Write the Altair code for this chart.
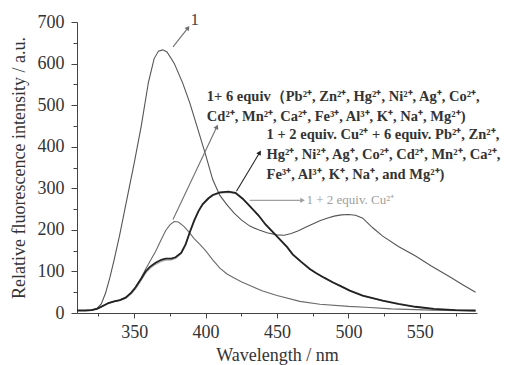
import altair as alt
import pandas as pd

# ---- spectra ----
wl_1 = [310, 315, 320, 324, 327, 330, 333, 336, 340, 345, 350, 355, 360, 364, 367, 370, 373, 378, 384, 389,
        394, 400, 405, 410, 415, 420, 425, 431, 437, 443, 450, 455, 460, 465, 470, 475, 480, 485, 490, 495,
        500, 505, 510, 517, 524, 535, 547, 558, 570, 580, 589]
int_1 = [6, 6, 7, 11, 22, 48, 85, 128, 190, 275, 360, 450, 555, 612, 630, 633, 628, 601, 553, 505,
         449, 381, 321, 283, 260, 240, 224, 209, 200, 193, 188, 187, 191, 198, 206, 214, 222, 228, 233, 236,
         237, 235, 228, 205, 185, 160, 137, 113, 89, 68, 50]

wl_cu = [310, 316, 320, 324, 328, 332, 336, 340, 344, 348, 351, 355, 358, 361, 365, 369, 372, 376, 379, 383,
         386, 389, 392, 395, 398, 402, 405, 410, 416, 421, 426, 431, 437, 442, 447, 452, 457, 461, 467, 473,
         477, 483, 489, 495, 501, 510, 524, 535, 547, 560, 575, 589]
int_cu6 = [6, 6, 7, 10, 17, 24, 28, 31, 37, 49, 62, 83, 100, 111, 121, 128, 131, 131, 134, 145,
           165, 195, 222, 245, 262, 276, 284, 290, 292, 289, 275, 257, 235, 213, 195, 177, 159, 141, 123, 106,
           97, 85, 74, 64, 54, 42, 30, 22, 15, 10, 7, 6]
int_cu = [6, 6, 7, 10, 16, 23, 27, 30, 35, 46, 58, 79, 96, 107, 117, 124, 127, 128, 131, 143,
          163, 193, 220, 243, 260, 274, 282, 288, 290, 287, 274, 256, 234, 212, 194, 176, 158, 140, 122, 105,
          96, 84, 73, 63, 53, 41, 29, 21, 14, 9, 7, 6]

wl_6 = [310, 316, 320, 324, 328, 332, 336, 340, 344, 348, 351, 355, 358, 362, 365, 369, 372, 375, 378, 381,
        385, 389, 392, 396, 400, 405, 410, 415, 420, 425, 431, 440, 450, 466, 480, 500, 512, 530, 558, 589]
int_6 = [6, 6, 7, 10, 17, 24, 28, 31, 37, 49, 62, 85, 105, 130, 148, 177, 198, 212, 220, 219,
         208, 192, 179, 165, 150, 128, 108, 94, 84, 75, 66, 53, 42, 28, 21, 16, 14, 10, 7, 5]

# ---- annotations (data units) ----
ann_text = ["1",
            "1+ 6 equiv（Pb²⁺, Zn²⁺, Hg²⁺, Ni²⁺, Ag⁺, Co²⁺,",
            "Cd²⁺, Mn²⁺, Ca²⁺, Fe³⁺, Al³⁺, K⁺, Na⁺, Mg²⁺)",
            "1 + 2 equiv. Cu²⁺ + 6 equiv. Pb²⁺, Zn²⁺,",
            "Hg²⁺, Ni²⁺, Ag⁺, Co²⁺, Cd²⁺, Mn²⁺, Ca²⁺,",
            "Fe³⁺, Al³⁺, K⁺, Na⁺, and Mg²⁺)",
            "1 + 2 equiv. Cu²⁺"]
ann_x = [389.5, 400.9, 400.9, 442.7, 442.7, 442.7, 470.6]
ann_y = [705, 520, 472, 429, 379, 333, 271]
ann_group = ["one", "bold", "bold", "bold", "bold", "bold", "gray"]

arr_x = [377.2, 377.2, 421.6, 430.9]
arr_y = [640, 225, 293, 271]
arr_x2 = [387.7, 407.9, 437.9, 467.9]
arr_y2 = [686, 448, 386, 271]
arr_angle = [38, 25, 31, 90]
arr_group = ["g1", "g1", "dark", "light"]

x_ticks = [325, 350, 375, 400, 425, 450, 475, 500, 525, 550, 575]
y_ticks = [0, 50, 100, 150, 200, 250, 300, 350, 400, 450, 500, 550, 600, 650, 700]

FONT = "Liberation Serif"

curves = pd.concat([
    pd.DataFrame({"x": wl_cu, "y": int_cu, "s": "cu"}),
    pd.DataFrame({"x": wl_6, "y": int_6, "s": "six"}),
    pd.DataFrame({"x": wl_1, "y": int_1, "s": "one"}),
    pd.DataFrame({"x": wl_cu, "y": int_cu6, "s": "cu6"}),
])
ann = pd.DataFrame({"x": ann_x, "y": ann_y, "t": ann_text, "g": ann_group})
arr = pd.DataFrame({"x": arr_x, "y": arr_y, "x2": arr_x2, "y2": arr_y2, "a": arr_angle, "g": arr_group})

xaxis = alt.Axis(values=x_ticks, title="Wavelength / nm",
                 labelExpr="datum.value % 50 === 0 ? datum.label : ''",
                 tickSize={"condition": {"test": "datum.value % 50 === 0", "value": 5}, "value": 3},
                 grid=False, labelFont=FONT, titleFont=FONT, labelFontSize=18, titleFontSize=18,
                 titleFontWeight="normal", labelColor="#333", titleColor="#333",
                 domainColor="#444", tickColor="#444", labelPadding=5, titlePadding=5)
yaxis = alt.Axis(values=y_ticks, title="Relative fluorescence intensity / a.u.",
                 labelExpr="datum.value % 100 === 0 ? datum.label : ''",
                 tickSize={"condition": {"test": "datum.value % 100 === 0", "value": 6}, "value": 4},
                 grid=False, labelFont=FONT, titleFont=FONT, labelFontSize=18, titleFontSize=18,
                 titleFontWeight="normal", labelColor="#333", titleColor="#333",
                 domainColor="#444", tickColor="#444", labelPadding=7, titlePadding=9)

xs = alt.Scale(domain=[310, 590], nice=False, zero=False)
ys = alt.Scale(domain=[0, 700], nice=False)

def X(f="x"):
    return alt.X(f, type="quantitative", scale=xs, axis=xaxis)

def Y(f="y"):
    return alt.Y(f, type="quantitative", scale=ys, axis=yaxis)

base = alt.Chart(curves)
line_style = {"cu": ("#a8a8a8", 1.2), "six": ("#6a6a6a", 1.1), "one": ("#555555", 1.1), "cu6": ("#222222", 1.8)}
layers = []
for s, (c, w) in line_style.items():
    layers.append(base.transform_filter(alt.datum.s == s)
                  .mark_line(color=c, strokeWidth=w)
                  .encode(x=X(), y=Y(), order="x:Q"))

arrow_colors = {"g1": "#707070", "dark": "#222222", "light": "#a0a0a0"}
for g, c in arrow_colors.items():
    a = alt.Chart(arr).transform_filter(alt.datum.g == g)
    layers.append(a.mark_rule(color=c, strokeWidth=1.1).encode(x=X(), y=Y(), x2="x2", y2="y2"))
    layers.append(a.mark_point(shape="triangle-up", filled=True, color=c, size=28, opacity=1)
                  .encode(x=X("x2"), y=Y("y2"), angle=alt.Angle("a:Q", scale=None)))

ta = alt.Chart(ann)
layers.append(ta.transform_filter(alt.datum.g == "one")
              .mark_text(font=FONT, fontSize=17, color="#444", align="left", baseline="middle")
              .encode(x=X(), y=Y(), text="t:N"))
layers.append(ta.transform_filter(alt.datum.g == "bold")
              .mark_text(font=FONT, fontSize=14.5, fontWeight="bold", color="#333", align="left", baseline="middle")
              .encode(x=X(), y=Y(), text="t:N"))
layers.append(ta.transform_filter(alt.datum.g == "gray")
              .mark_text(font=FONT, fontSize=13, color="#a0a0a0", align="left", baseline="middle")
              .encode(x=X(), y=Y(), text="t:N"))

chart = alt.layer(*layers).properties(
    width=400, height=291,
    autosize=alt.AutoSizeParams(type="none"),
    padding={"left": 77, "top": 22, "right": 40, "bottom": 52},
    background="white",
).configure_view(stroke=None)

chart.save("out.html", embed_options={"renderer": "svg", "actions": False})
